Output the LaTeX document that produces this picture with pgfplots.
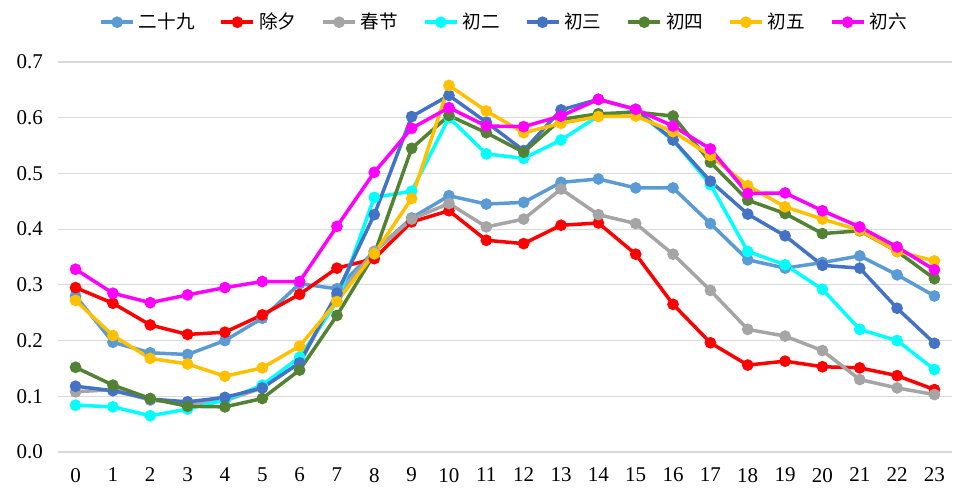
\documentclass[border=0pt]{standalone}
\usepackage{pgfplots}
\pgfplotsset{compat=1.18}
\usepackage{fontspec}
\setmainfont{Liberation Serif}
\newfontfamily\cjk{Noto Sans CJK SC}
\definecolor{c1}{HTML}{5B9BD5}
\definecolor{c2}{HTML}{FF0000}
\definecolor{c3}{HTML}{A5A5A5}
\definecolor{c4}{HTML}{00FFFF}
\definecolor{c5}{HTML}{4472C4}
\definecolor{c6}{HTML}{548235}
\definecolor{c7}{HTML}{FFC000}
\definecolor{c8}{HTML}{FF00FF}
\begin{document}
\begin{tikzpicture}
\begin{axis}[
  scale only axis, width=447pt, height=195pt,
  xmin=-0.47, xmax=23.47, ymin=0, ymax=0.7,
  xtick={0,...,23}, ytick={0,0.1,...,0.7},
  ymajorgrids, grid style={draw=black!15, line width=0.6pt},
  axis line style={draw=none}, tick style={draw=none},
  /pgf/number format/assume math mode=true,
  yticklabel style={/pgf/number format/.cd, fixed, fixed zerofill, precision=1, /tikz/.cd, xshift=-4pt},
  ticklabel style={font=\fontsize{10.5}{12}\selectfont},
  xticklabel style={yshift=-4.5pt},
  every axis plot/.append style={line width=1.75pt, mark=*, mark size=2pt, mark options={solid}},
  legend columns=-1,
  legend style={draw=none, at={(0.5,1)}, anchor=south, yshift=13pt, font=\cjk\fontsize{9.3}{11}\selectfont,
    /tikz/every even column/.append style={column sep=10.5pt}, inner sep=0pt},
  legend image code/.code={\draw[#1, mark repeat=2, mark phase=2] plot coordinates {(0pt,0pt) (8pt,0pt) (16pt,0pt)};},
]
\addplot[c1, mark options={fill=c1}] coordinates {(0,0.280)(1,0.197)(2,0.178)(3,0.175)(4,0.200)(5,0.240)(6,0.302)(7,0.293)(8,0.360)(9,0.420)(10,0.460)(11,0.445)(12,0.448)(13,0.484)(14,0.490)(15,0.474)(16,0.474)(17,0.410)(18,0.345)(19,0.330)(20,0.340)(21,0.352)(22,0.318)(23,0.280)};
\addplot[c2, mark options={fill=c2}] coordinates {(0,0.295)(1,0.267)(2,0.228)(3,0.211)(4,0.215)(5,0.246)(6,0.283)(7,0.330)(8,0.347)(9,0.413)(10,0.433)(11,0.380)(12,0.374)(13,0.407)(14,0.411)(15,0.355)(16,0.265)(17,0.196)(18,0.156)(19,0.163)(20,0.153)(21,0.151)(22,0.137)(23,0.112)};
\addplot[c3, mark options={fill=c3}] coordinates {(0,0.108)(1,0.112)(2,0.093)(3,0.087)(4,0.092)(5,0.115)(6,0.160)(7,0.280)(8,0.360)(9,0.418)(10,0.446)(11,0.404)(12,0.418)(13,0.472)(14,0.426)(15,0.410)(16,0.355)(17,0.290)(18,0.220)(19,0.208)(20,0.182)(21,0.130)(22,0.115)(23,0.103)};
\addplot[c4, mark options={fill=c4}] coordinates {(0,0.084)(1,0.081)(2,0.065)(3,0.077)(4,0.093)(5,0.120)(6,0.170)(7,0.270)(8,0.457)(9,0.468)(10,0.600)(11,0.535)(12,0.527)(13,0.560)(14,0.603)(15,0.612)(16,0.560)(17,0.480)(18,0.360)(19,0.336)(20,0.292)(21,0.220)(22,0.200)(23,0.148)};
\addplot[c5, mark options={fill=c5}] coordinates {(0,0.118)(1,0.110)(2,0.095)(3,0.090)(4,0.098)(5,0.115)(6,0.160)(7,0.285)(8,0.426)(9,0.602)(10,0.640)(11,0.592)(12,0.541)(13,0.614)(14,0.633)(15,0.615)(16,0.560)(17,0.486)(18,0.427)(19,0.388)(20,0.335)(21,0.330)(22,0.258)(23,0.195)};
\addplot[c6, mark options={fill=c6}] coordinates {(0,0.152)(1,0.120)(2,0.096)(3,0.082)(4,0.081)(5,0.096)(6,0.147)(7,0.245)(8,0.355)(9,0.545)(10,0.604)(11,0.573)(12,0.538)(13,0.597)(14,0.607)(15,0.610)(16,0.603)(17,0.520)(18,0.452)(19,0.428)(20,0.392)(21,0.397)(22,0.360)(23,0.311)};
\addplot[c7, mark options={fill=c7}] coordinates {(0,0.272)(1,0.209)(2,0.168)(3,0.158)(4,0.136)(5,0.151)(6,0.190)(7,0.270)(8,0.356)(9,0.455)(10,0.658)(11,0.612)(12,0.573)(13,0.590)(14,0.602)(15,0.603)(16,0.575)(17,0.532)(18,0.478)(19,0.440)(20,0.418)(21,0.398)(22,0.360)(23,0.343)};
\addplot[c8, mark options={fill=c8}] coordinates {(0,0.328)(1,0.285)(2,0.268)(3,0.282)(4,0.295)(5,0.306)(6,0.306)(7,0.405)(8,0.502)(9,0.581)(10,0.618)(11,0.585)(12,0.584)(13,0.603)(14,0.633)(15,0.615)(16,0.585)(17,0.544)(18,0.464)(19,0.465)(20,0.433)(21,0.404)(22,0.368)(23,0.327)};
\legend{二十九,除夕,春节,初二,初三,初四,初五,初六}
\end{axis}
\pgfresetboundingbox
\path ([xshift=-29pt,yshift=-23.5pt]current axis.south west) rectangle ([xshift=11pt,yshift=31pt]current axis.north east);
\end{tikzpicture}
\end{document}
